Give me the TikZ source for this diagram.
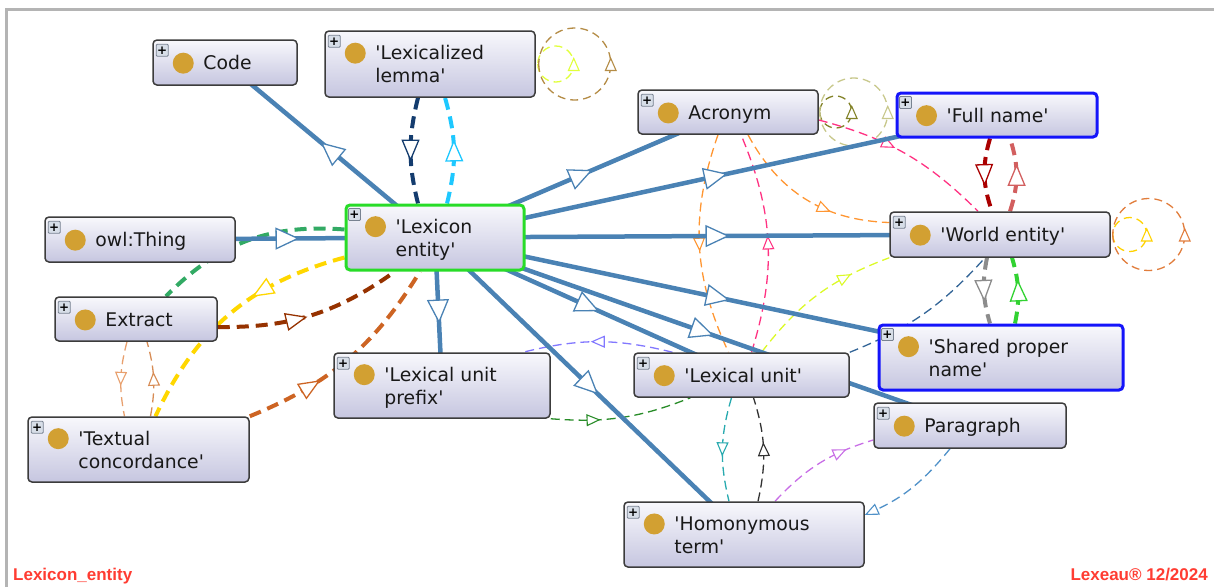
\documentclass[tikz,border=0pt]{standalone}
\usepackage{fontspec}
\setmainfont{DejaVu Sans}[Ligatures=TeXOff]
\newfontfamily\footfont{Liberation Sans}
\usepackage{xcolor}
\usetikzlibrary{arrows.meta,decorations.markings,backgrounds}

\definecolor{clsline}{RGB}{60,60,60}
\definecolor{clstop}{RGB}{248,248,252}
\definecolor{clsbot}{RGB}{198,198,224}
\definecolor{selgreen}{RGB}{40,220,40}
\definecolor{selblue}{RGB}{20,20,250}
\definecolor{dotgold}{RGB}{210,160,50}
\definecolor{plusfill}{RGB}{215,222,232}
\definecolor{plusline}{RGB}{120,130,145}
\definecolor{isablue}{RGB}{74,130,180}
\definecolor{footred}{RGB}{255,60,50}
\definecolor{framegray}{RGB}{180,180,180}
\definecolor{cNavy}{RGB}{20,60,110}
\definecolor{cCyan}{RGB}{30,200,255}
\definecolor{cLlYel}{RGB}{225,255,60}
\definecolor{cLlBrown}{RGB}{180,140,70}
\definecolor{cAcrOlive}{RGB}{130,130,40}
\definecolor{cAcrKhaki}{RGB}{200,200,140}
\definecolor{cWeYel}{RGB}{255,210,0}
\definecolor{cWeOrange}{RGB}{225,125,60}
\definecolor{cOrange}{RGB}{255,150,50}
\definecolor{cPink}{RGB}{255,50,130}
\definecolor{cLime}{RGB}{220,250,40}
\definecolor{cSlate}{RGB}{50,100,150}
\definecolor{cDarkRed}{RGB}{170,0,0}
\definecolor{cLightRed}{RGB}{210,95,95}
\definecolor{cGray}{RGB}{140,140,140}
\definecolor{cGreen}{RGB}{50,210,50}
\definecolor{cLav}{RGB}{130,120,255}
\definecolor{cForest}{RGB}{40,140,40}
\definecolor{cTeal}{RGB}{40,170,175}
\definecolor{cInk}{RGB}{50,50,50}
\definecolor{cViolet}{RGB}{200,110,230}
\definecolor{cSteel}{RGB}{80,145,200}
\definecolor{cJade}{RGB}{50,170,100}
\definecolor{cGold}{RGB}{255,215,0}
\definecolor{cRust}{RGB}{150,50,0}
\definecolor{cOchre}{RGB}{205,100,35}
\definecolor{cTanA}{RGB}{232,160,110}
\definecolor{cTanB}{RGB}{215,140,85}

\tikzset{
  cls/.style={draw=clsline,line width=1.5pt,rounded corners=4pt,top color=clstop,bottom color=clsbot,inner sep=0pt},
  clsg/.style={cls,draw=selgreen,line width=3pt},
  clsb/.style={cls,draw=selblue,line width=3pt},
  clstext/.style={anchor=west,align=left,inner sep=0pt,text=black!90,font=\fontsize{18.8pt}{23pt}\selectfont,text depth=.24em},
  clsdot/.style={circle,fill=dotgold,minimum size=21pt,inner sep=0pt},
  clsplus/.style={draw=plusline,fill=plusfill,minimum size=12pt,inner sep=0pt,line width=.8pt,rounded corners=1pt,font=\fontsize{12pt}{12pt}\selectfont\bfseries},
  isatip/.tip={Triangle[fill=white,length=24pt,width=22pt,line width=1.3pt]},
  midtip/.tip={Triangle[fill=white,length=22pt,width=18pt,line width=1.3pt]},
  reltip/.tip={Triangle[fill=white,length=14pt,width=12pt,line width=1.1pt]},
  isa/.style={draw=isablue,line width=4.5pt,postaction={decorate},
    decoration={markings,mark=at position .5 with {\arrow[xshift=12pt]{isatip}}}},
  rel/.style 2 args={draw=#1,line width=1.3pt,dash pattern=on 9pt off 5pt,postaction={decorate},
    decoration={markings,mark=at position #2 with {\arrow[xshift=7pt]{reltip}}}},
  relk/.style 2 args={draw=#1,line width=4pt,dash pattern=on 12pt off 7pt,postaction={decorate},
    decoration={markings,mark=at position #2 with {\arrow[xshift=11pt]{midtip}}}},
  relplain/.style={draw=#1,line width=1.3pt,dash pattern=on 9pt off 5pt},
  relkplain/.style={draw=#1,line width=4pt,dash pattern=on 12pt off 7pt},
  relend/.style={draw=#1,line width=1.3pt,dash pattern=on 9pt off 5pt,-{reltip}},
  loopy/.style={draw=#1,line width=1.3pt,dash pattern=on 8pt off 5pt,postaction={decorate},
    decoration={markings,mark=at position .5 with {\arrow[xshift=7pt]{reltip}}}},
  foot/.style={inner sep=0pt,text=footred,font=\footfont\fontsize{17pt}{17pt}\selectfont\bfseries},
  frame/.style={draw=framegray,line width=3pt}
}
\newcommand{\owlcls}[7][cls]{%
  \node[#1,minimum width=#5pt,minimum height=#6pt] (#2) at (#3,#4) {};
  \node[clstext] (#2-t) at ([xshift=51pt,yshift=-1.5pt]#2.west) {#7};
  \node[clsdot] (#2-d) at ([xshift=-20pt,yshift=-7.7pt]#2-t.north west) {};
  \node[clsplus] (#2-p) at ([xshift=10pt,yshift=-11pt]#2.north west) {+};
}

\begin{document}
\begin{tikzpicture}[x=1pt,y=-1pt]
\useasboundingbox (0,0) rectangle (1214,587);
\draw[frame] (6,587) -- (6,9.5) -- (1214,9.5);

\owlcls{code}{225}{62.5}{144}{45}{Code}
\owlcls{ll}{430}{64}{210}{66}{'Lexicalized\\lemma'}
\owlcls{acr}{728}{112}{180}{44}{Acronym}
\owlcls[clsb]{fn}{997}{115}{200}{44}{'Full name'}
\owlcls{we}{1000}{234.5}{220}{45}{'World entity'}
\owlcls{thing}{140}{239.5}{190}{45}{owl:Thing}
\owlcls[clsg]{le}{435}{237.5}{178}{65}{'Lexicon\\entity'}
\owlcls{ext}{136}{319}{162}{44}{Extract}
\owlcls{tc}{138.5}{449.5}{221}{65}{'Textual\\concordance'}
\owlcls{lup}{442}{385.5}{216}{65}{'Lexical unit\\prefix'}
\owlcls{lu}{741.5}{375}{215}{44}{'Lexical unit'}
\owlcls[clsb]{spn}{1001}{357.5}{244}{65}{'Shared proper\\name'}
\owlcls{par}{970}{425.5}{192}{45}{Paragraph}
\owlcls{ht}{744}{534.5}{240}{65}{'Homonymous\\term'}

\node[foot,anchor=base west] (title) at (13,580) {Lexicon\_entity};
\node[foot,anchor=base east] (brand) at (1208,580) {Lexeau® 12/2024};

\begin{scope}[on background layer]
\draw[relkplain=cJade] ([yshift=8pt]le.west) to[bend right=25] ([xshift=30pt]ext.north);
\draw[relk={cGold}{.35}] ([yshift=-20pt]le.west) to[bend right=25] ([xshift=17pt]tc.north);
\draw[relk={cRust}{.42}] ([yshift=-8pt]ext.east) to[bend right=18] ([xshift=-40pt]le.south);
\draw[relk={cOchre}{.3}] (tc.north east) to[bend right=18] ([xshift=-15pt]le.south);
\draw[rel={cTanA}{.5}] ([xshift=-9pt]ext.south) to[bend right=13] ([xshift=-14pt]tc.north);
\draw[rel={cTanB}{.5}] ([xshift=12pt]tc.north) to[bend right=13] ([xshift=11pt]ext.south);

\draw[relk={cNavy}{.5}] ([xshift=-12pt]ll.south) to[bend right=14] ([xshift=-17pt]le.north);
\draw[relk={cCyan}{.5}] ([xshift=12pt]le.north) to[bend right=15] ([xshift=15pt]ll.south);
\draw[loopy=cLlYel] ([xshift=2pt]ll.east) arc[start angle=180,end angle=540,radius=18pt];
\draw[loopy=cLlBrown] ([xshift=3pt]ll.east) arc[start angle=180,end angle=540,radius=36pt];
\draw[loopy=cAcrOlive] ([xshift=1pt]acr.east) arc[start angle=180,end angle=540,radius=16pt];
\draw[loopy=cAcrKhaki] ([xshift=1pt]acr.east) arc[start angle=180,end angle=540,radius=34pt];
\draw[loopy=cWeYel] ([xshift=2pt]we.east) arc[start angle=180,end angle=540,radius=17pt];
\draw[loopy=cWeOrange] ([xshift=2pt]we.east) arc[start angle=180,end angle=540,radius=36pt];

\draw[rel={cOrange}{.62}] ([xshift=20pt]acr.south) to[bend right=30] ([yshift=12pt]we.west);
\draw[rel={cPink}{.4}] ([yshift=-8pt]acr.east) to[bend left=15] ([xshift=-22pt]we.north);
\draw[rel={cOrange}{.5}] ([xshift=-10pt]acr.south) to[bend right=22] ([xshift=-13pt]lu.north);
\draw[rel={cPink}{.5}] ([xshift=10pt]lu.north) to[bend right=20] ([xshift=13pt]acr.south);

\draw[rel={cLime}{.7}] ([xshift=20pt]lu.north) to[bend left=16] (we.south west);
\draw[relplain=cSlate] (lu.north east) to[bend right=13] ([xshift=-15pt]we.south);
\draw[rel={cLav}{.5}] ([xshift=-69pt]lu.north) to[bend right=14] ([xshift=81pt]lup.north);
\draw[rel={cForest}{.3}] (lup.south east) to[bend right=13] ([xshift=-51pt]lu.south);
\draw[rel={cTeal}{.5}] ([xshift=-10pt]lu.south) to[bend right=15] ([xshift=-15pt]ht.north);
\draw[rel={cInk}{.5}] ([xshift=14pt]ht.north) to[bend right=15] ([xshift=12pt]lu.south);
\draw[rel={cViolet}{.7}] ([xshift=31pt]ht.north) to[bend left=15] ([yshift=-14.5pt]par.west);
\draw[relend=cSteel] ([xshift=-20pt]par.south) to[bend left=13] ([yshift=19.5pt]ht.east);

\draw[relk={cDarkRed}{.5}] ([xshift=-7pt]fn.south) to[bend right=18] ([xshift=-8pt]we.north);
\draw[relk={cLightRed}{.5}] ([xshift=10pt]we.north) to[bend right=18] ([xshift=13pt]fn.south);
\draw[relk={cGray}{.5}] ([xshift=-13pt]we.south) to[bend right=14] ([xshift=-11pt]spn.north);
\draw[relk={cGreen}{.5}] ([xshift=14pt]spn.north) to[bend right=14] ([xshift=12pt]we.south);

\draw[isa] (le.center) -- (code.center);
\draw[isa] (thing.center) -- (le.center);
\draw[isa] (le.center) -- (lup.center);
\draw[isa] (le.center) -- (acr.center);
\draw[isa] (le.center) -- (fn.center);
\draw[isa] (le.center) -- (we.center);
\draw[isa] (le.center) -- (spn.center);
\draw[isa] (le.center) -- (lu.center);
\draw[isa] (le.center) -- (par.center);
\draw[isa] (le.center) -- (ht.center);
\end{scope}
\end{tikzpicture}
\end{document}
